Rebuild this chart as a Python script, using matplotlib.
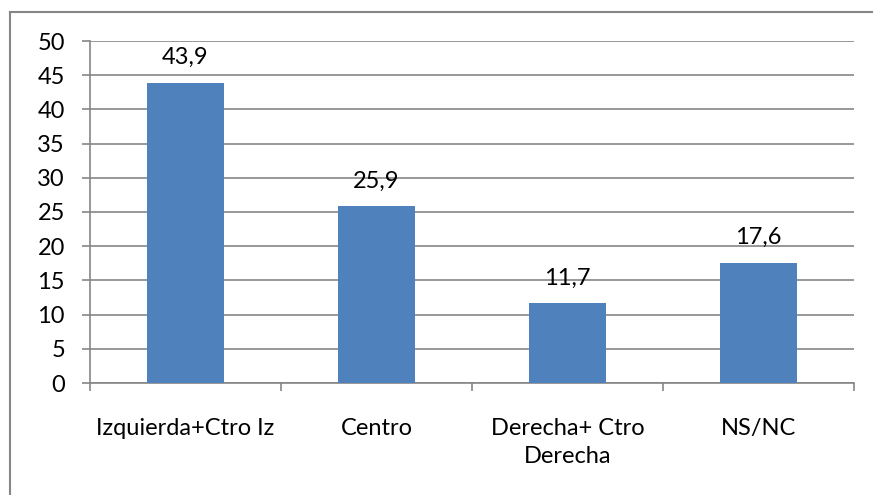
import matplotlib
matplotlib.use('Agg')
import matplotlib.pyplot as plt
from matplotlib.lines import Line2D
import numpy as np

# valores
categorias = ['Izquierda+Ctro Iz', 'Centro', 'Derecha+ Ctro\nDerecha', 'NS/NC']
valores = [43.9, 25.9, 11.7, 17.6]
etiquetas = ['43,9', '25,9', '11,7', '17,6']
yticks = [0, 5, 10, 15, 20, 25, 30, 35, 40, 45, 50]

AZUL = '#4F81BD'
GRIS = '#868686'
FS = 17

plt.rcParams['font.family'] = ['Lato', 'DejaVu Sans']

fig = plt.figure(figsize=(8.73, 4.95), dpi=100)
ax = fig.add_axes([90 / 873, 1 - 383 / 495, (854 - 90) / 873, (383 - 41) / 495])

x = np.arange(len(categorias))
ax.bar(x, valores, width=0.4, color=AZUL, zorder=3)

for xi, v, t in zip(x, valores, etiquetas):
    ax.annotate(t, (xi, v), xytext=(0, 18), textcoords='offset points',
                ha='center', va='center', fontsize=FS, color='black', zorder=4)

ax.set_xlim(-0.5, len(categorias) - 0.5)
ax.set_ylim(0, 50)
ax.set_yticks(yticks)
ax.set_yticklabels([str(t) for t in yticks], fontsize=FS)
ax.yaxis.grid(True, color=GRIS, linewidth=1.2, zorder=0)

# ticks del eje x en los limites de categoria, etiquetas en el centro
ax.set_xticks(np.arange(-0.5, len(categorias), 1.0))
ax.set_xticklabels([])
ax.set_xticks(x, minor=True)
ax.set_xticklabels(categorias, minor=True, fontsize=FS, linespacing=1.45)
ax.tick_params(axis='x', which='minor', length=0, pad=25)
ax.tick_params(axis='x', which='major', length=6, width=1.2, color=GRIS)
ax.tick_params(axis='y', length=6, width=1.2, color=GRIS, pad=12)

for s in ['top', 'right']:
    ax.spines[s].set_visible(False)
for s in ['left', 'bottom']:
    ax.spines[s].set_color(GRIS)
    ax.spines[s].set_linewidth(1.2)

# borde del area del grafico (solo se ve arriba y a la izquierda)
fig.add_artist(Line2D([10 / 873, 10 / 873], [0, 1 - 12 / 495], color=GRIS, linewidth=1.5))
fig.add_artist(Line2D([10 / 873, 1], [1 - 12 / 495, 1 - 12 / 495], color=GRIS, linewidth=1.5))

fig.savefig('out.png', dpi=100)
